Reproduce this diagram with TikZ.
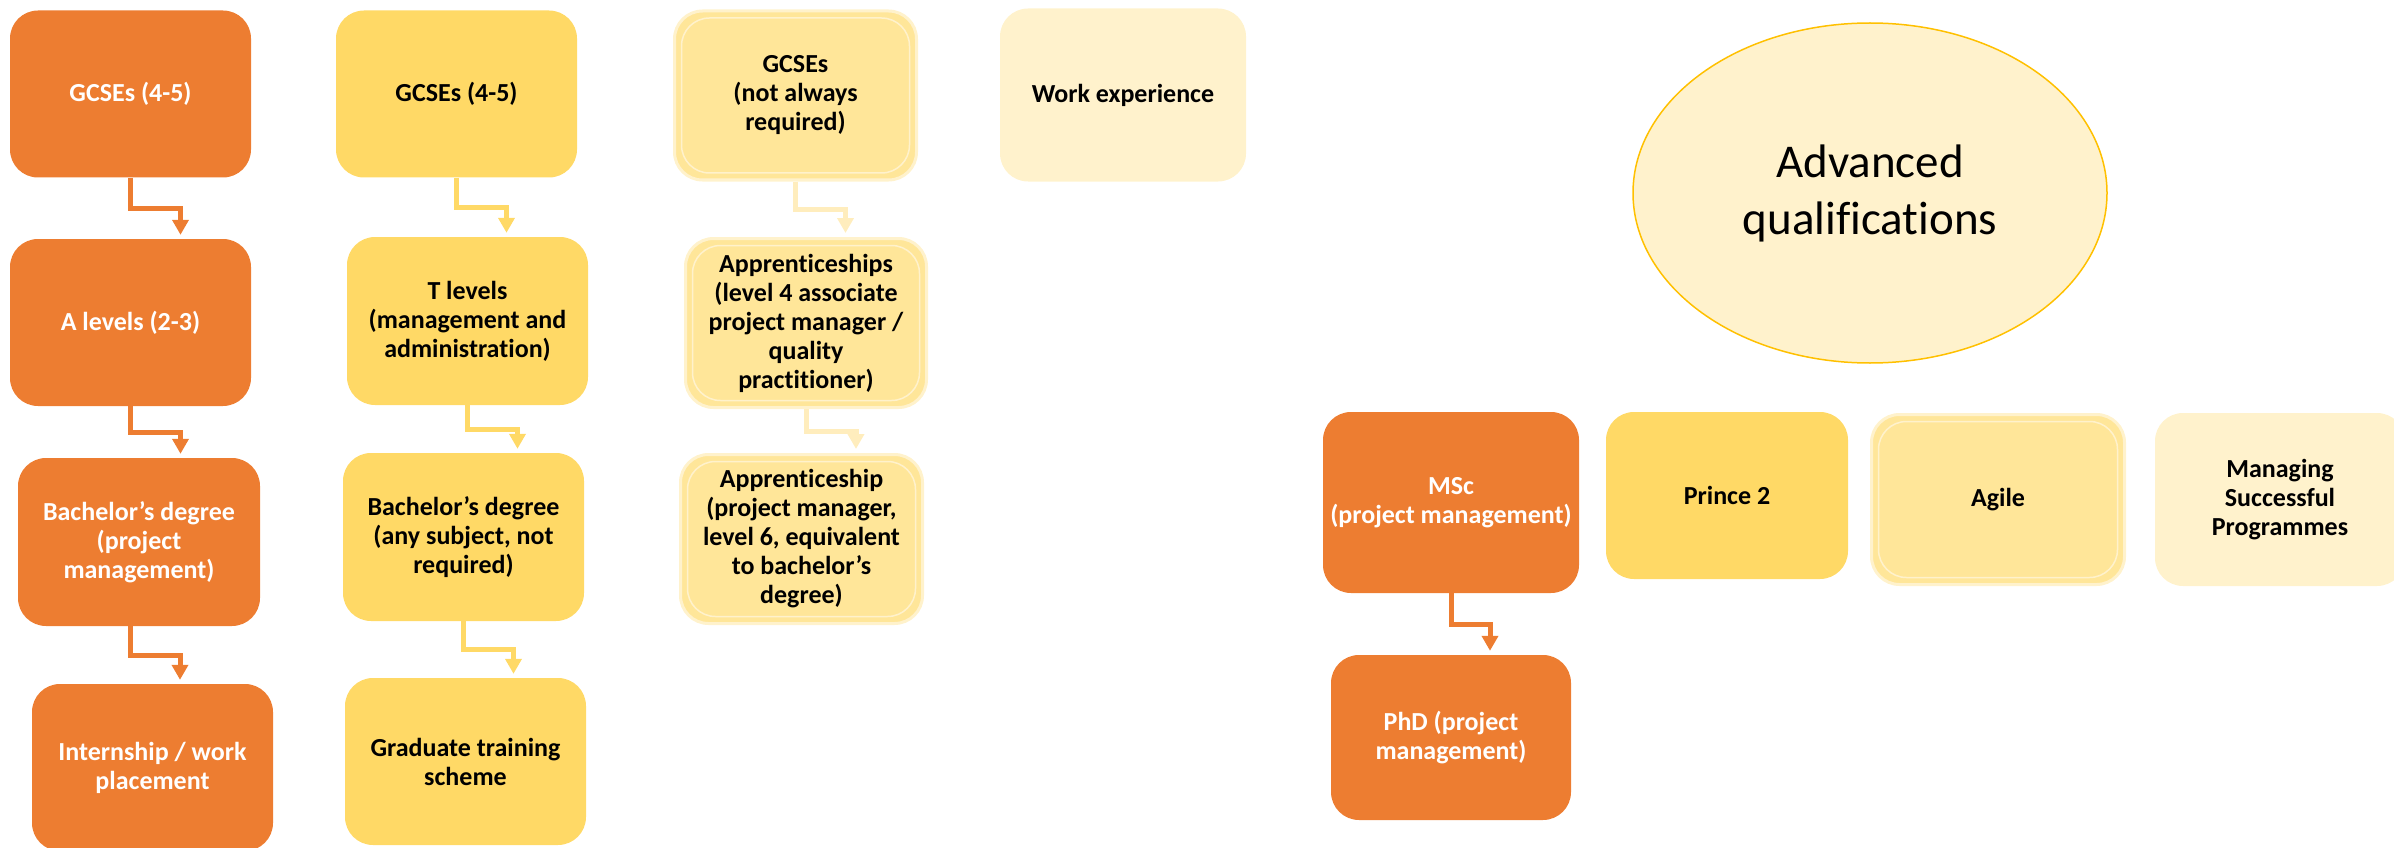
\documentclass[tikz,border=0pt]{standalone}
\usepackage{fontspec}
\setmainfont{Carlito}[Ligatures=NoCommon]
\usetikzlibrary{arrows.meta,shapes.geometric,calc}

\definecolor{pmorange}{HTML}{ED7D31}
\definecolor{pmgold}{HTML}{FFD966}
\definecolor{pmsand}{HTML}{FFE699}
\definecolor{pmcream}{HTML}{FFF2CC}
\definecolor{pmpale}{HTML}{FFEDBD}
\definecolor{pmamber}{HTML}{FFC000}

\begin{document}
\begin{tikzpicture}[->, >={Triangle[width=16pt,length=15pt]}, x=1pt, y=-1pt,
    elbow/.style={line width=5pt, shorten >=4pt,
        to path={let \p1=(\tikztostart), \p2=(\tikztotarget.north) in
            -- (\x1,{(\y1+\y2)/2}) -- (\x1+#1,{(\y1+\y2)/2}) -- (\x1+#1,\y2)}},
    elbow/.default=50pt]

    \tikzstyle{box}=[rectangle, rounded corners=28pt, inner sep=0pt, align=center,
                     minimum width=241pt, minimum height=167pt,
                     font=\bfseries\fontsize{26}{29}\selectfont]
    \tikzstyle{orangebox}=[box, fill=pmorange, text=white]
    \tikzstyle{goldbox}=[box, fill=pmgold]
    \tikzstyle{sandbox}=[box, fill=pmsand, draw=pmcream, line width=3pt,
                     path picture={\draw[-, pmcream, line width=1.5pt]
                        ([shift={(7pt,-7pt)}]path picture bounding box.north west) rectangle
                        ([shift={(-7pt,7pt)}]path picture bounding box.south east);}]
    \tikzstyle{creambox}=[box, fill=pmcream]

    \useasboundingbox (0,0) rectangle (2394,848);
    \clip (0,0) rectangle (2394,848);

    \node[orangebox] (og1) at (130.5,94) {GCSEs (4-5)};
    \node[orangebox] (og2) at (130.5,322.5) {A levels (2-3)};
    \node[orangebox, minimum width=242pt, minimum height=168pt] (og3) at (139,542) {Bachelor’s degree\\(project\\management)};
    \node[orangebox] (og4) at (152.5,767.5) {Internship / work\\placement};

    \node[goldbox] (yg1) at (456.5,94) {GCSEs (4-5)};
    \node[goldbox, minimum height=168pt] (yg2) at (467.5,321) {T levels\\(management and\\administration)};
    \node[goldbox, minimum height=168pt] (yg3) at (463.5,537) {Bachelor’s degree\\(any subject, not\\required)};
    \node[goldbox] (yg4) at (465.5,761.5) {Graduate training\\scheme};

    \node[sandbox, minimum width=242pt, minimum height=169pt] (lg1) at (795.5,95.5) {GCSEs\\(not always\\required)};
    \node[sandbox, minimum width=241pt, minimum height=169pt] (lg2) at (806,323) {Apprenticeships\\(level 4 associate\\project manager /\\quality\\practitioner)};
    \node[sandbox, minimum width=242pt, minimum height=169pt] (lg3) at (801.5,539) {Apprenticeship\\(project manager,\\level 6, equivalent\\to bachelor’s\\degree)};
    \node[creambox, minimum width=246pt, minimum height=173pt] (work) at (1123,95) {Work experience};

    \node[ellipse, fill=pmcream, draw=pmamber, line width=1.5pt, inner sep=0pt,
          minimum width=474pt, minimum height=340pt, align=center,
          font=\fontsize{47}{57}\selectfont] (adv) at (1870,193) {Advanced\\qualifications};

    \node[orangebox, minimum width=256pt, minimum height=181pt] (msc) at (1451,502.5) {MSc\\(project management)};
    \node[goldbox, minimum width=242pt] (prince) at (1727,495.5) {Prince 2};
    \node[sandbox, minimum width=253pt, minimum height=170pt] (agile) at (1998,499.5) {Agile};
    \node[creambox, minimum width=250pt, minimum height=173pt] (msp) at (2280,499.5) {Managing\\Successful\\Programmes};
    \node[orangebox, minimum width=240pt, minimum height=165pt] (phd) at (1451,737.5) {PhD (project\\management)};

    \path (og1.south) edge[elbow, pmorange] (og2)
          (og2.south) edge[elbow, pmorange] (og3)
          ([xshift=-9pt]og3.south) edge[elbow, pmorange] (og4)
          (yg1.south) edge[elbow, pmgold] (yg2)
          (yg2.south) edge[elbow, pmgold] (yg3)
          (yg3.south) edge[elbow, pmgold] (yg4)
          (lg1.south) edge[elbow, pmpale] (lg2)
          (lg2.south) edge[elbow, pmpale] (lg3)
          (msc.south) edge[elbow=39pt, pmorange] (phd);
\end{tikzpicture}
\end{document}
